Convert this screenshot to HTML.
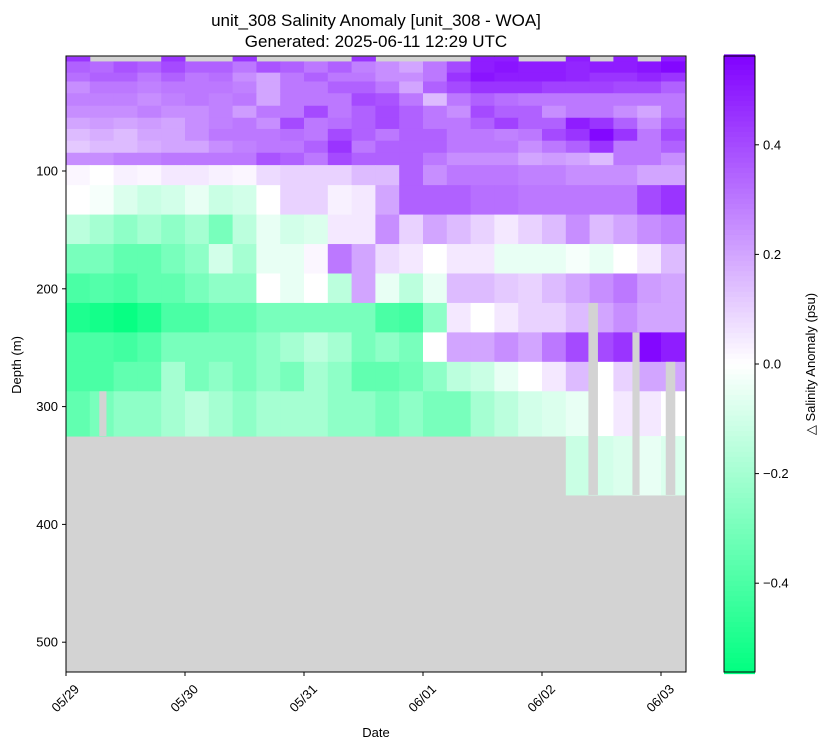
<!DOCTYPE html>
<html><head><meta charset="utf-8"><style>
html,body{margin:0;padding:0;background:#fff;}
svg{display:block;font-family:"Liberation Sans","DejaVu Sans",sans-serif;}
</style></head><body>
<svg id="chart" width="827" height="749" viewBox="0 0 827 749" xmlns="http://www.w3.org/2000/svg">
<rect width="827" height="749" fill="#fff"/>
<text x="376" y="26" font-size="17" text-anchor="middle" fill="#000">unit_308 Salinity Anomaly [unit_308 - WOA]</text>
<text x="376" y="47" font-size="17" text-anchor="middle" fill="#000">Generated: 2025-06-11 12:29 UTC</text>
<g id="plot"></g>
<g id="axes"></g>
<g id="cbar"></g>
<text x="376" y="737" font-size="13" text-anchor="middle">Date</text>
<text transform="translate(21,365) rotate(-90)" font-size="13" text-anchor="middle">Depth (m)</text>
<text transform="translate(815,364) rotate(-90)" font-size="13" text-anchor="middle">△ Salinity Anomaly (psu)</text>
</svg>
<script>
const depthEdges=[3,7,16.5,24,34,44.6,54.8,64.3,74.3,84.5,95,112,137,162,187,212,237,262,287,325,375];
const colStep=0.2;
const xTickDays=[0,1,2,3,4,5];
const xTickLabels=["05/29","05/30","05/31","06/01","06/02","06/03"];
const yTicks=[100,200,300,400,500];
const cTicks=[0.4,0.2,0.0,-0.2,-0.4];
const cTickLabels=["0.4","0.2","0.0","−0.2","−0.4"];
const N=null;
const values=[
[0.45,N,N,N,0.45,N,N,0.45,N,N,N,N,0.45,N,N,N,N,0.5,0.5,N,N,0.5,N,0.5,N,0.5],
[0.35,0.33,0.38,0.35,0.4,0.35,0.35,0.3,0.38,0.35,0.3,0.35,0.28,0.25,0.2,0.3,0.4,0.5,0.52,0.5,0.5,0.48,0.5,0.5,0.52,0.55],
[0.32,0.35,0.35,0.3,0.35,0.3,0.32,0.25,0.2,0.3,0.35,0.3,0.3,0.25,0.25,0.3,0.45,0.52,0.5,0.5,0.5,0.48,0.45,0.45,0.48,0.45],
[0.25,0.3,0.3,0.28,0.3,0.3,0.3,0.28,0.2,0.3,0.3,0.35,0.35,0.3,0.2,0.35,0.4,0.45,0.45,0.45,0.42,0.42,0.42,0.4,0.4,0.35],
[0.28,0.28,0.28,0.25,0.28,0.3,0.28,0.3,0.2,0.3,0.3,0.3,0.4,0.38,0.3,0.15,0.3,0.35,0.32,0.3,0.3,0.3,0.3,0.3,0.3,0.3],
[0.25,0.25,0.25,0.28,0.25,0.25,0.28,0.22,0.3,0.3,0.4,0.3,0.35,0.4,0.35,0.3,0.25,0.4,0.35,0.35,0.25,0.3,0.3,0.25,0.2,0.3],
[0.2,0.22,0.2,0.22,0.2,0.25,0.28,0.3,0.25,0.4,0.3,0.32,0.35,0.4,0.35,0.3,0.3,0.35,0.42,0.35,0.35,0.5,0.45,0.35,0.25,0.35],
[0.15,0.18,0.15,0.2,0.2,0.25,0.3,0.3,0.3,0.32,0.3,0.4,0.35,0.3,0.35,0.35,0.3,0.3,0.28,0.3,0.4,0.45,0.55,0.45,0.3,0.4],
[0.12,0.15,0.15,0.18,0.2,0.2,0.25,0.28,0.3,0.3,0.35,0.45,0.3,0.35,0.35,0.35,0.3,0.3,0.3,0.25,0.3,0.35,0.45,0.3,0.3,0.35],
[0.25,0.25,0.28,0.28,0.3,0.3,0.3,0.3,0.38,0.35,0.3,0.4,0.35,0.35,0.35,0.3,0.25,0.25,0.25,0.2,0.22,0.2,0.15,0.3,0.3,0.25],
[0.02,0.0,0.03,0.02,0.05,0.05,0.03,0.02,0.08,0.1,0.1,0.1,0.15,0.15,0.35,0.25,0.3,0.3,0.3,0.28,0.28,0.25,0.25,0.25,0.2,0.2],
[0.0,-0.02,-0.08,-0.12,-0.1,-0.05,-0.12,-0.1,0.0,0.1,0.1,0.03,0.05,0.2,0.35,0.35,0.35,0.32,0.32,0.3,0.3,0.3,0.3,0.3,0.4,0.45],
[-0.15,-0.2,-0.25,-0.2,-0.25,-0.2,-0.3,-0.15,-0.05,-0.1,-0.08,0.05,0.05,0.25,0.1,0.2,0.15,0.1,0.05,0.1,0.15,0.25,0.15,0.2,0.25,0.28],
[-0.3,-0.3,-0.35,-0.35,-0.3,-0.25,-0.1,-0.2,-0.05,-0.05,0.02,0.3,0.2,0.08,0.05,0.0,0.05,0.05,-0.05,-0.05,-0.05,-0.02,-0.05,0.0,0.05,0.15],
[-0.4,-0.38,-0.4,-0.35,-0.35,-0.3,-0.25,-0.25,0.0,-0.05,0.0,-0.15,0.2,-0.05,-0.15,-0.05,0.15,0.15,0.12,0.1,0.15,0.2,0.25,0.3,0.22,0.2],
[-0.5,-0.52,-0.55,-0.5,-0.4,-0.4,-0.35,-0.35,-0.3,-0.3,-0.3,-0.3,-0.3,-0.4,-0.42,-0.25,0.05,0.0,0.05,0.1,0.1,0.15,0.2,0.25,0.2,0.2],
[-0.4,-0.4,-0.42,-0.38,-0.3,-0.3,-0.3,-0.3,-0.25,-0.2,-0.15,-0.2,-0.3,-0.25,-0.3,0.0,0.2,0.2,0.25,0.2,0.3,0.4,0.4,0.45,0.55,0.5],
[-0.4,-0.4,-0.35,-0.35,-0.2,-0.3,-0.25,-0.3,-0.25,-0.3,-0.2,-0.25,-0.35,-0.35,-0.32,-0.25,-0.15,-0.12,-0.05,0.0,0.05,0.15,0.0,0.1,0.2,0.2],
[-0.35,-0.3,-0.25,-0.25,-0.2,-0.15,-0.2,-0.25,-0.2,-0.2,-0.2,-0.25,-0.25,-0.3,-0.25,-0.3,-0.3,-0.2,-0.15,-0.1,-0.08,-0.05,0.0,0.05,0.05,0.0],
[N,N,N,N,N,N,N,N,N,N,N,N,N,N,N,N,N,N,N,N,N,-0.12,-0.1,-0.08,-0.05,-0.08]
];
const gapStart=[0.28,4.39,4.76,5.04];
const gapEnd=[0.34,4.47,4.82,5.12];
const gapTop=[287,212,237,262];
const gapBottom=[325,375,375,375];

const PX0=66,PX1=686,PY0=56,PY1=672;
const xS=d=>66+d*119;
const yS=m=>53.2+m*1.178;
const VMAX=0.565;
function color(v){
  const t=Math.max(-1,Math.min(1,v/VMAX));
  let r,g,b;
  if(t>=0){r=255+(128-255)*t;g=255*(1-t);b=255;}
  else{const s=-t;r=255*(1-s);g=255;b=255+(128-255)*s;}
  return `rgb(${Math.round(r)},${Math.round(g)},${Math.round(b)})`;
}
const NS="http://www.w3.org/2000/svg";
function mk(tag,attrs,parent){const e=document.createElementNS(NS,tag);for(const k in attrs)e.setAttribute(k,attrs[k]);parent.appendChild(e);return e;}
const plot=document.getElementById('plot');
const bg=mk('rect',{x:PX0,y:PY0,width:PX1-PX0,height:PY1-PY0,fill:'#d3d3d3'},plot);


values.forEach((row,ri)=>{
  const y0=yS(depthEdges[ri]),y1=yS(depthEdges[ri+1]);
  row.forEach((v,ci)=>{
    if(v===null)return;
    const x0=xS(ci*colStep),x1=Math.min(PX1,xS((ci+1)*colStep));
    const c=mk('rect',{x:x0,y:Math.max(PY0,y0),width:x1-x0+0.5,height:y1-Math.max(PY0,y0)+0.5,fill:color(v)},plot);
    
    
  });
});
gapStart.forEach((s,i)=>{
  const g=mk('rect',{x:xS(s),y:yS(gapTop[i]),width:xS(gapEnd[i])-xS(s),height:yS(gapBottom[i])-yS(gapTop[i]),fill:'#d3d3d3'},plot);
  
  
});
const axes=document.getElementById('axes');
const frame=mk('rect',{x:PX0,y:PY0,width:PX1-PX0,height:PY1-PY0,fill:'none',stroke:'#000','stroke-width':1},axes);


xTickDays.forEach((d,i)=>{
  const x=xS(d);
  const t=mk('line',{x1:x,y1:PY1,x2:x,y2:PY1+4,stroke:'#000'},axes);
  
  
  const l=mk('text',{transform:`translate(${x},${PY1+27}) rotate(-45)`,'font-size':13,'text-anchor':'middle','dominant-baseline':'middle'},axes);
  l.textContent=xTickLabels[i];
  
  
});
yTicks.forEach(m=>{
  const y=yS(m);
  const t=mk('line',{x1:PX0-4,y1:y,x2:PX0,y2:y,stroke:'#000'},axes);
  
  
  const l=mk('text',{x:PX0-8,y:y+4.5,'font-size':13,'text-anchor':'end'},axes);
  l.textContent=String(m);
  
  
});
const cb=document.getElementById('cbar');
const CX=724,CW=31;
const cv=v=>364-v*548;
for(let i=0;i<120;i++){
  const v0=VMAX-i*(2*VMAX/120),v1=v0-2*VMAX/120;
  const r=mk('rect',{x:CX,y:cv(v0),width:CW,height:cv(v1)-cv(v0)+0.5,fill:color((v0+v1)/2)},cb);
  
  
}
const cf=mk('rect',{x:CX,y:PY0,width:CW,height:PY1-PY0,fill:'none',stroke:'#000'},cb);


cTicks.forEach((v,i)=>{
  const y=cv(v);
  const t=mk('line',{x1:CX+CW,y1:y,x2:CX+CW+4,y2:y,stroke:'#000'},cb);
  
  
  const l=mk('text',{x:CX+CW+8,y:y+4.5,'font-size':13},cb);
  l.textContent=cTickLabels[i];
  
  
});
</script>
</body></html>
